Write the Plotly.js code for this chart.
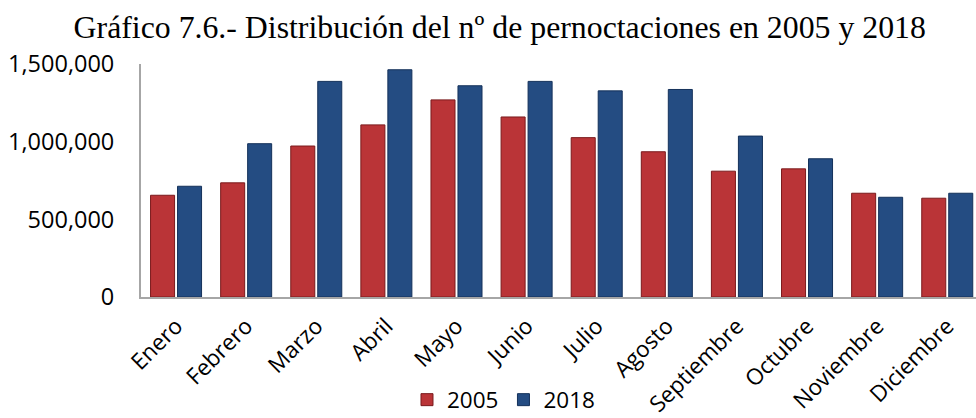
<!DOCTYPE html>
<html>
<head>
<meta charset="utf-8">
<script src="https://cdn.plot.ly/plotly-3.0.1.min.js"></script>
<style>html,body{margin:0;padding:0;background:#fff;}#chart{width:976px;height:418px;}</style>
</head>
<body>
<div id="chart"></div>
<script>
const months = ["Enero","Febrero","Marzo","Abril","Mayo","Junio","Julio","Agosto","Septiembre","Octubre","Noviembre","Diciembre"];
const v2005 = [655000, 735000, 972000, 1108000, 1269000, 1159000, 1026000, 935000, 810000, 825000, 668000, 636000];
const v2018 = [713000, 987000, 1388000, 1463000, 1360000, 1388000, 1327000, 1336000, 1036000, 890000, 642000, 668000];
const seriesNames = ["2005", "2018"];

const font = "Open Sans, sans-serif";
const traces = [
  {type:"bar", name:seriesNames[0], x:months, y:v2005,
   marker:{color:"#BA3437", line:{color:"#7A1A1C", width:1}}},
  {type:"bar", name:seriesNames[1], x:months, y:v2018,
   marker:{color:"#244C82", line:{color:"#14315A", width:1}}}
];
const layout = {
  width:976, height:418,
  margin:{l:141, r:0, t:64, b:121},
  paper_bgcolor:"#fff", plot_bgcolor:"#fff",
  barmode:"group", bargap:0.23, bargroupgap:0.11,
  title:{text:"Gráfico 7.6.- Distribución del nº de pernoctaciones en 2005 y 2018",
         font:{family:"Liberation Serif, serif", size:31.8, color:"#000"},
         x:0.512, xanchor:"center", y:0.935, yanchor:"middle", yref:"container"},
  xaxis:{type:"category", range:[-0.5, 11.41], tickangle:-45,
         tickfont:{family:font, size:22.5, color:"#000"},
         showline:true, linecolor:"#A6A6A6", linewidth:2, ticks:"", showgrid:false,
         ticklabelstandoff:5, fixedrange:true},
  yaxis:{range:[0,1500000], dtick:500000, tickformat:",d",
         tickfont:{family:font, size:23.5, color:"#000"},
         showline:true, linecolor:"#A6A6A6", linewidth:2, ticks:"", showgrid:false,
         zeroline:false, ticklabelstandoff:20, fixedrange:true},
  showlegend:true,
  legend:{orientation:"h", xref:"container", yref:"container", x:0.417, xanchor:"left",
          y:0.043, yanchor:"middle", font:{family:font, size:22.5, color:"#000"},
          itemwidth:30, tracegroupgap:0},
  font:{family:font}
};
Plotly.newPlot("chart", traces, layout, {displayModeBar:false, staticPlot:true});
</script>
</body>
</html>
